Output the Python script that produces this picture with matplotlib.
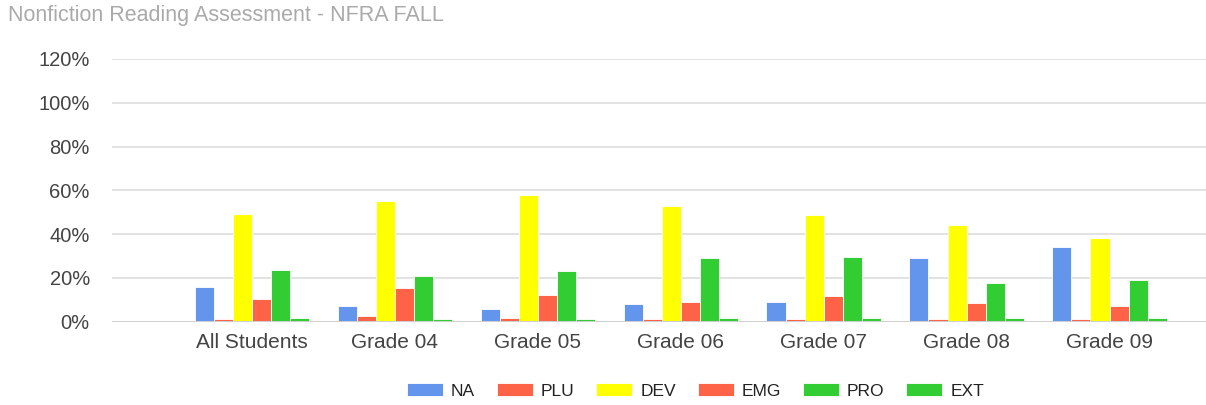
import matplotlib.pyplot as plt
import numpy as np

plt.rcParams['font.family'] = ['Liberation Sans', 'DejaVu Sans']

categories = ['All Students', 'Grade 04', 'Grade 05', 'Grade 06', 'Grade 07', 'Grade 08', 'Grade 09']
na  = [15.9, 7.1, 5.9, 7.9, 8.9, 29.1, 34.1]
plu = [1.0, 2.3, 1.5, 1.0, 1.0, 1.0, 1.0]
dev = [49.0, 55.3, 57.7, 52.9, 48.5, 44.1, 38.3]
emg = [10.3, 15.5, 12.1, 9.1, 11.5, 8.3, 7.1]
pro = [23.5, 20.9, 23.3, 29.1, 29.7, 17.7, 19.1]
ext = [1.5, 1.0, 1.0, 1.5, 1.5, 1.5, 1.5]

series = [('NA', na, '#6495ED'), ('PLU', plu, '#FF6347'), ('DEV', dev, '#FFFF00'),
          ('EMG', emg, '#FF6347'), ('PRO', pro, '#32CD32'), ('EXT', ext, '#32CD32')]

x = np.arange(len(categories))
width = 0.1333

fig = plt.figure(figsize=(12.06, 4.05), dpi=100)
ax = fig.add_axes([112/1206, (405-321.5)/405, 1 - 112/1206, (321.5-59)/405])

for i, (name, vals, col) in enumerate(series):
    ax.bar(x + (i - 2.5) * width, vals, width, color=col, label=name,
           edgecolor='white', linewidth=0.6, zorder=3)

ax.set_ylim(0, 120)
ax.set_xlim(-0.979, 6.675)
ax.set_yticks(np.arange(0, 121, 20))
ax.set_yticklabels([f'{v}%' for v in range(0, 121, 20)])
ax.set_xticks(x)
ax.set_xticklabels(categories)
ax.tick_params(axis='y', length=0, pad=16, labelsize=14.5, labelcolor='#444444')
ax.tick_params(axis='x', length=0, pad=8, labelsize=15, labelcolor='#444444')
ax.grid(axis='y', color='#e2e2e2', linewidth=1.4, zorder=0)
for s in ['top', 'right', 'left', 'bottom']:
    ax.spines[s].set_visible(False)
ax.axhline(0, color='#d0d0d0', linewidth=1.4, zorder=4)

fig.text(8/1206, 1 - 16/405, 'Nonfiction Reading Assessment - NFRA FALL',
         fontsize=15.5, color='#aaaaaa', va='center', ha='left')

fig.legend(loc='center', bbox_to_anchor=(695.5/1206, 1 - 391/405), ncol=6, frameon=False,
           fontsize=12.5, handlelength=2.07, handleheight=0.75, handletextpad=0.46,
           columnspacing=1.26, labelcolor='#222222')

fig.savefig('out.png', dpi=100)
